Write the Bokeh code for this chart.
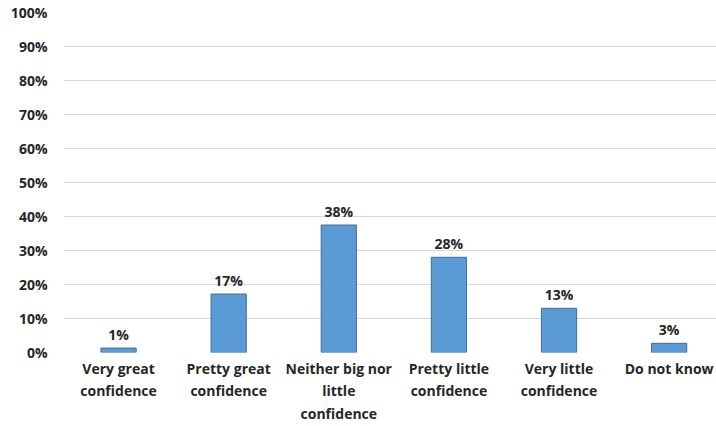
from bokeh.plotting import figure
from bokeh.models import ColumnDataSource, Range1d, FixedTicker, NumeralTickFormatter, LabelSet
from bokeh.core.properties import value
from bokeh.embed import file_html
from bokeh.resources import INLINE

categories = ["Very great\nconfidence", "Pretty great\nconfidence", "Neither big nor\nlittle\nconfidence",
              "Pretty little\nconfidence", "Very little\nconfidence", "Do not know"]
values = [1.3, 17.2, 37.5, 28.0, 13.0, 2.7]
y_ticks = [0, 10, 20, 30, 40, 50, 60, 70, 80, 90, 100]

xs = list(range(len(categories)))
src = ColumnDataSource(dict(x=xs, top=[v / 100 for v in values],
                            lbl=[f"{round(v)}%" for v in values]))

FONT = "Open Sans"

p = figure(width=716, height=426, output_backend="svg", toolbar_location=None,
           x_range=Range1d(-0.5, 5.43), y_range=Range1d(0, 1.0))
p.min_border_left = 63
p.min_border_right = 0
p.min_border_top = 12
p.min_border_bottom = 74
p.outline_line_color = None
p.background_fill_color = "white"
p.border_fill_color = "white"

p.vbar(x="x", top="top", width=0.32, source=src, fill_color="#5B9BD5",
       line_color="#3F6E9A", line_width=1)

labels = LabelSet(x="x", y="top", text="lbl", source=src, text_align="center",
                  text_baseline="bottom", y_offset=4, text_font=value(FONT),
                  text_font_style="bold", text_font_size="14px", text_color="#262626")
p.add_layout(labels)

p.yaxis.ticker = FixedTicker(ticks=[t / 100 for t in y_ticks])
p.yaxis.formatter = NumeralTickFormatter(format="0%")
p.xaxis.ticker = FixedTicker(ticks=xs)
p.xaxis.major_label_overrides = {i: c for i, c in enumerate(categories)}

for ax in (p.xaxis[0], p.yaxis[0]):
    ax.axis_line_color = None
    ax.major_tick_line_color = None
    ax.minor_tick_line_color = None
    ax.major_tick_out = 0
    ax.major_tick_in = 0
    ax.minor_tick_out = 0
    ax.minor_tick_in = 0
    ax.major_label_text_font = FONT
    ax.major_label_text_font_style = "bold"
    ax.major_label_text_font_size = "14px"
    ax.major_label_text_color = "#262626"

p.yaxis.major_label_standoff = 16
p.xaxis.major_label_standoff = 6

p.xgrid.grid_line_color = None
p.ygrid.grid_line_color = "#D9D9D9"
p.ygrid.grid_line_width = 1

open("out.html", "w").write(file_html(p, INLINE))
